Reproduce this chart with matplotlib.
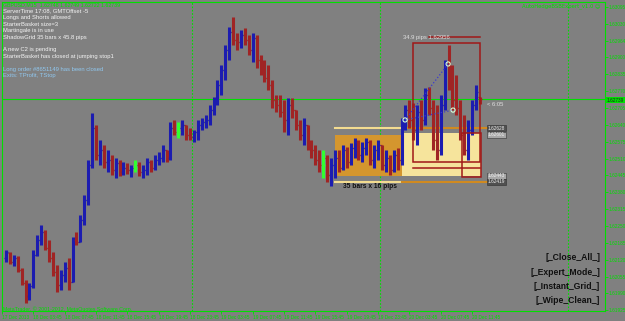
import numpy as np
import matplotlib.pyplot as plt
from matplotlib.patches import Rectangle

W, H = 625, 321

# GBPUSD M15, one plotted bar every second M15 slot
slots = np.arange(1, 244, 2)
opens = [1.62126, 1.62145, 1.62111, 1.62126, 1.62080, 1.62030, 1.61979, 1.62018, 1.62138, 1.62196,
         1.62226, 1.62165, 1.62126, 1.62072, 1.62022, 1.62060, 1.62088, 1.62033, 1.62196, 1.62188,
         1.62273, 1.62350, 1.62485, 1.62628, 1.62524, 1.62543, 1.62497, 1.62504, 1.62466, 1.62493,
         1.62458, 1.62474, 1.62466, 1.62474, 1.62485, 1.62458, 1.62466, 1.62497, 1.62474, 1.62504,
         1.62512, 1.62543, 1.62512, 1.62628, 1.62612, 1.62628, 1.62639, 1.62601, 1.62593, 1.62612,
         1.62639, 1.62651, 1.62659, 1.62697, 1.62736, 1.62794, 1.62852, 1.62929, 1.62998, 1.62968,
         1.62960, 1.62987, 1.62968, 1.62929, 1.62975, 1.62890, 1.62852, 1.62821, 1.62794, 1.62736,
         1.62717, 1.62690, 1.62659, 1.62717, 1.62697, 1.62639, 1.62601, 1.62639, 1.62562, 1.62543,
         1.62504, 1.62485, 1.62512, 1.62446, 1.62485, 1.62512, 1.62474, 1.62543, 1.62497, 1.62551,
         1.62574, 1.62524, 1.62551, 1.62574, 1.62504, 1.62543, 1.62562, 1.62485, 1.62512, 1.62466,
         1.62524, 1.62504, 1.62651, 1.62697, 1.62659, 1.62620, 1.62690, 1.62659, 1.62755, 1.62705,
         1.62582, 1.62543, 1.62717, 1.62871, 1.62813, 1.62736, 1.62705, 1.62601, 1.62543, 1.62620,
         1.62717, 1.62748]
highs = [1.62157, 1.62149, 1.62138, 1.62134, 1.62088, 1.62041, 1.62030, 1.62157, 1.62215, 1.62253,
         1.62234, 1.62196, 1.62149, 1.62099, 1.62080, 1.62111, 1.62126, 1.62207, 1.62226, 1.62292,
         1.62369, 1.62504, 1.62686, 1.62639, 1.62582, 1.62562, 1.62543, 1.62524, 1.62512, 1.62504,
         1.62497, 1.62493, 1.62485, 1.62504, 1.62497, 1.62485, 1.62512, 1.62504, 1.62524, 1.62535,
         1.62562, 1.62543, 1.62651, 1.62659, 1.62651, 1.62659, 1.62639, 1.62628, 1.62620, 1.62659,
         1.62667, 1.62678, 1.62717, 1.62748, 1.62813, 1.62871, 1.62948, 1.63018, 1.63056, 1.62995,
         1.63006, 1.63014, 1.62987, 1.62995, 1.62987, 1.62910, 1.62890, 1.62871, 1.62813, 1.62755,
         1.62755, 1.62736, 1.62744, 1.62744, 1.62697, 1.62659, 1.62667, 1.62639, 1.62582, 1.62562,
         1.62543, 1.62543, 1.62524, 1.62512, 1.62543, 1.62543, 1.62562, 1.62555, 1.62570, 1.62589,
         1.62582, 1.62574, 1.62589, 1.62582, 1.62562, 1.62582, 1.62562, 1.62543, 1.62524, 1.62543,
         1.62551, 1.62667, 1.62717, 1.62736, 1.62724, 1.62717, 1.62736, 1.62782, 1.62786, 1.62736,
         1.62717, 1.62755, 1.62890, 1.62948, 1.62871, 1.62832, 1.62736, 1.62678, 1.62659, 1.62736,
         1.62794, 1.62749]
lows = [1.62111, 1.62103, 1.62095, 1.62072, 1.62022, 1.61952, 1.61964, 1.62010, 1.62134, 1.62176,
        1.62157, 1.62111, 1.62057, 1.61995, 1.62003, 1.62033, 1.62003, 1.62033, 1.62176, 1.62188,
        1.62253, 1.62331, 1.62474, 1.62504, 1.62485, 1.62474, 1.62458, 1.62446, 1.62435, 1.62443,
        1.62446, 1.62450, 1.62439, 1.62458, 1.62443, 1.62435, 1.62446, 1.62458, 1.62466, 1.62485,
        1.62497, 1.62497, 1.62504, 1.62601, 1.62589, 1.62601, 1.62582, 1.62582, 1.62574, 1.62582,
        1.62620, 1.62628, 1.62639, 1.62678, 1.62717, 1.62755, 1.62813, 1.62890, 1.62948, 1.62929,
        1.62937, 1.62948, 1.62910, 1.62883, 1.62860, 1.62832, 1.62805, 1.62775, 1.62705, 1.62690,
        1.62670, 1.62612, 1.62601, 1.62667, 1.62620, 1.62582, 1.62562, 1.62543, 1.62512, 1.62485,
        1.62458, 1.62435, 1.62419, 1.62404, 1.62435, 1.62458, 1.62466, 1.62474, 1.62485, 1.62512,
        1.62504, 1.62497, 1.62524, 1.62485, 1.62474, 1.62504, 1.62466, 1.62458, 1.62446, 1.62458,
        1.62466, 1.62485, 1.62620, 1.62628, 1.62582, 1.62562, 1.62620, 1.62639, 1.62678, 1.62543,
        1.62504, 1.62524, 1.62697, 1.62775, 1.62697, 1.62678, 1.62582, 1.62524, 1.62504, 1.62601,
        1.62697, 1.62722]
closes = [1.62149, 1.62111, 1.62126, 1.62080, 1.62030, 1.61979, 1.62018, 1.62138, 1.62196, 1.62226,
          1.62165, 1.62126, 1.62072, 1.62022, 1.62060, 1.62088, 1.62033, 1.62196, 1.62188, 1.62273,
          1.62350, 1.62485, 1.62628, 1.62524, 1.62543, 1.62497, 1.62504, 1.62466, 1.62493, 1.62458,
          1.62474, 1.62466, 1.62474, 1.62474, 1.62458, 1.62466, 1.62497, 1.62474, 1.62504, 1.62512,
          1.62543, 1.62512, 1.62628, 1.62612, 1.62612, 1.62639, 1.62601, 1.62593, 1.62612, 1.62639,
          1.62651, 1.62659, 1.62697, 1.62736, 1.62794, 1.62852, 1.62929, 1.62998, 1.62968, 1.62960,
          1.62987, 1.62968, 1.62929, 1.62975, 1.62890, 1.62852, 1.62821, 1.62794, 1.62736, 1.62717,
          1.62690, 1.62659, 1.62717, 1.62697, 1.62639, 1.62601, 1.62639, 1.62562, 1.62543, 1.62504,
          1.62485, 1.62485, 1.62446, 1.62485, 1.62512, 1.62474, 1.62543, 1.62497, 1.62551, 1.62574,
          1.62524, 1.62551, 1.62574, 1.62504, 1.62543, 1.62562, 1.62485, 1.62512, 1.62466, 1.62524,
          1.62504, 1.62651, 1.62697, 1.62659, 1.62620, 1.62690, 1.62659, 1.62755, 1.62705, 1.62582,
          1.62543, 1.62717, 1.62871, 1.62813, 1.62736, 1.62705, 1.62601, 1.62543, 1.62620, 1.62717,
          1.62767, 1.62739]

price_ticks = [1.63095, 1.63030, 1.62964, 1.62900, 1.62835, 1.62770, 1.62705, 1.62640, 1.62575,
               1.62510, 1.62445, 1.62380, 1.62315, 1.62250, 1.62185, 1.62120, 1.62055, 1.61990, 1.61925]
time_slots = [-1, 15, 31, 47, 63, 79, 95, 111, 127, 143, 159, 175, 191, 207, 223, 239]
time_labels = ['17 Dec 2013', '18 Dec 03:45', '18 Dec 07:45', '18 Dec 11:45', '18 Dec 15:45',
               '18 Dec 19:45', '18 Dec 23:45', '19 Dec 03:45', '19 Dec 07:45', '19 Dec 11:45',
               '19 Dec 15:45', '19 Dec 19:45', '19 Dec 23:45', '20 Dec 03:45', '20 Dec 07:45',
               '20 Dec 11:45']
day_breaks = [96, 192, 288]
bid = 1.62739

info_lines = ['ServerTime 17:08, GMTOffset -5', 'Longs and Shorts allowed', 'StarterBasket size=3',
              'Martingale is in use', 'ShadowGrid 35 bars x 45.8 pips', '',
              'A new C2 is pending', 'StarterBasket has closed at jumping stop1', '']
exit_lines = ['Long order #8651149 has been closed', 'Exits: TProfit, TStop']
buttons = ['[_Close_All_]', '[_Expert_Mode_]', '[_Instant_Grid_]', '[_Wipe_Clean_]']

plt.rcParams['font.family'] = ['Liberation Sans', 'DejaVu Sans']

GREEN = '#00e000'
BG = '#808080'
UP, DOWN = '#1c1cb0', '#a02424'

fig = plt.figure(figsize=(W / 100, H / 100), dpi=100, facecolor=BG)
ax = fig.add_axes([2 / W, 1 - 311 / H, 603 / W, 309 / H], facecolor=BG)
ax.set_xlim(-1.02, 306.9)
ax.set_ylim(1.61922, 1.63114)

def px(x, y):
    return x / W, 1 - y / H

opens, highs, lows, closes = map(np.array, (opens, highs, lows, closes))
colors = np.where(closes > opens, UP, np.where(closes < opens, DOWN, '#30ff30'))

# shadow grid zone and breakout zone
ax.add_patch(Rectangle((169, 1.62443), 34, 1.62601 - 1.62443, facecolor='#d4962e',
                       edgecolor='none', hatch='....', zorder=1))
ax.add_patch(Rectangle((203, 1.62443), 40.5, 1.62609 - 1.62443, facecolor='#f6e49c',
                       edgecolor='none', zorder=1))
for lvl in (1.62628, 1.62419):
    ax.plot([169, 203], [lvl, lvl], color='#f3dc90', lw=1.5, zorder=2)
    ax.plot([203, 247], [lvl, lvl], color='#d08a20', lw=1.5, zorder=2)

# bars
ax.vlines(slots, lows, highs, colors=colors, lw=2.2, zorder=3)
ax.hlines(opens, slots - 1.0, slots, colors=colors, lw=0.9, zorder=3)
ax.hlines(closes, slots, slots + 1.0, colors=colors, lw=0.9, zorder=3)

# red target boxes
ax.add_patch(Rectangle((209, 1.62497), 34.2, 1.62956 - 1.62497, facecolor='none',
                       edgecolor='#a01818', lw=1.1, zorder=4))
ax.add_patch(Rectangle((234, 1.62439), 9.6, 1.62609 - 1.62439, facecolor='none',
                       edgecolor='#a01818', lw=1.1, zorder=4))
ax.plot([209, 243], [1.62474, 1.62474], color='#a01818', lw=1.1, zorder=4)
ax.plot([217, 243], [1.62979, 1.62979], color='#a01818', lw=1.1, zorder=4)

# zigzag
zz_x = [204.8, 226.8, 229.3]
zz_y = [1.62659, 1.62875, 1.62697]
ax.plot(zz_x[:2], zz_y[:2], ls=':', color='#3838d0', lw=0.9, zorder=5)
ax.plot([zz_x[0], zz_x[2]], [zz_y[0], zz_y[2]], ls=':', color='#3838d0', lw=0.9, zorder=5)
ax.scatter(zz_x, zz_y, s=9, facecolors='none', edgecolors='#d8ffd8', lw=0.8, zorder=6)

# day separators and bid line
for d in day_breaks:
    ax.axvline(d, color=GREEN, ls=(0, (1.5, 1.5)), lw=0.8, zorder=0)
ax.axhline(bid, color=GREEN, lw=0.8, zorder=2)

for s in ax.spines.values():
    s.set_color(GREEN)
    s.set_linewidth(0.8)

ax.yaxis.tick_right()
ax.set_yticks(price_ticks)
ax.set_yticklabels([f'{p:.5f}' for p in price_ticks])
ax.set_xticks(time_slots)
ax.set_xticklabels(time_labels)
ax.tick_params(colors=GREEN, labelsize=3.4, length=2, width=0.6, pad=0.8)
for lbl in ax.get_xticklabels():
    lbl.set_ha('left')

# price labels for grid levels
tag_font = dict(fontsize=3.4, va='center', ha='left', color='#f0f0f0')
for y, txt, fc in [(128, '1.62628', '#505050'), (135, '1.62601', '#a8a8a8'),
                   (176, '1.62443', '#a8a8a8'), (182, '1.62419', '#505050')]:
    fig.text(*px(488, y), txt, bbox=dict(boxstyle='square,pad=0.15', fc=fc, ec='#303030', lw=0.4),
             **tag_font)
fig.text(*px(607, 100), f'{bid:.5f}', fontsize=3.4, va='center', ha='left', color='#202020',
         bbox=dict(boxstyle='square,pad=0.15', fc=GREEN, ec='none'))

fig.text(*px(403, 38), '34.9 pips 1.62956', fontsize=4.2, color='#e0e0e0', va='center')
fig.text(*px(487, 104), '< 6:05', fontsize=4.2, color='#e0e0e0', va='center')
fig.text(*px(343, 187), '35 bars x 16 pips', fontsize=4.8, weight='bold', color='#101010',
         va='center')

fig.text(*px(3, 5), 'GBPUSD,M15  1.62748 1.62749 1.62722 1.62739', fontsize=3.8, color=GREEN,
         va='center')
for i, line in enumerate(info_lines):
    fig.text(*px(3, 11 + i * 6.5), line, fontsize=4.2, color='#f4f4f4', va='center')
for i, line in enumerate(exit_lines):
    fig.text(*px(3, 69 + i * 6.5), line, fontsize=4.2, color='#90c8f0', va='center')
fig.text(*px(601, 6), 'AutoHedgeBSBExpert_v1.0 \u263a', fontsize=3.8, color=GREEN, ha='right',
         va='center', family=['DejaVu Sans'])
fig.text(*px(3, 309), 'MetaTrader, \u00a9 2001-2012, MetaQuotes Software Corp.', fontsize=3.8,
         color=GREEN, va='center')

for i, b in enumerate(buttons):
    fig.text(*px(600, 258 + i * 14.3), b, fontsize=6.2, weight='bold', color='#101010', ha='right',
             va='center')

fig.savefig('out.png', dpi=100, facecolor=BG)
